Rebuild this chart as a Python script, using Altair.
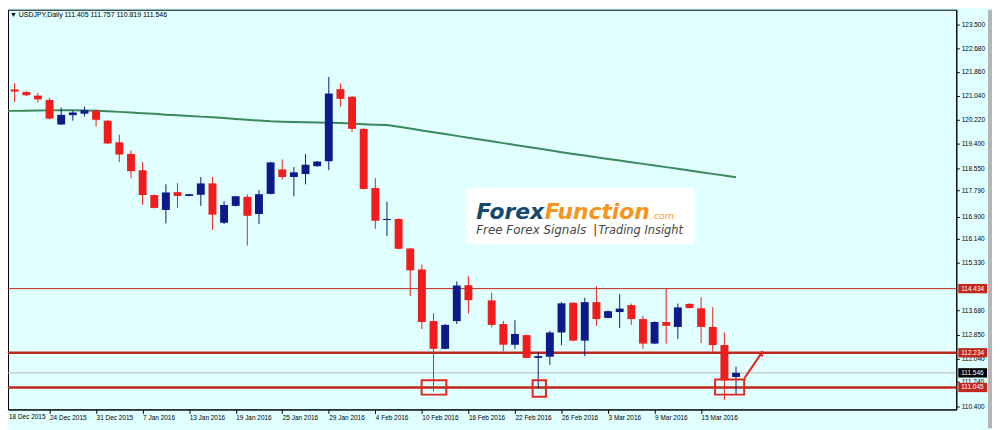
import json
import altair as alt
import pandas as pd

# ---------------- data ----------------
dates = ["18 Dec 2015", "21 Dec 2015", "22 Dec 2015", "23 Dec 2015", "24 Dec 2015",
         "28 Dec 2015", "29 Dec 2015", "30 Dec 2015", "31 Dec 2015", "4 Jan 2016",
         "5 Jan 2016", "6 Jan 2016", "7 Jan 2016", "8 Jan 2016", "11 Jan 2016",
         "12 Jan 2016", "13 Jan 2016", "14 Jan 2016", "15 Jan 2016", "18 Jan 2016",
         "19 Jan 2016", "20 Jan 2016", "21 Jan 2016", "22 Jan 2016", "25 Jan 2016",
         "26 Jan 2016", "27 Jan 2016", "28 Jan 2016", "29 Jan 2016", "1 Feb 2016",
         "2 Feb 2016", "3 Feb 2016", "4 Feb 2016", "5 Feb 2016", "8 Feb 2016",
         "9 Feb 2016", "10 Feb 2016", "11 Feb 2016", "12 Feb 2016", "15 Feb 2016",
         "16 Feb 2016", "17 Feb 2016", "18 Feb 2016", "19 Feb 2016", "22 Feb 2016",
         "23 Feb 2016", "24 Feb 2016", "25 Feb 2016", "26 Feb 2016", "29 Feb 2016",
         "1 Mar 2016", "2 Mar 2016", "3 Mar 2016", "4 Mar 2016", "7 Mar 2016",
         "8 Mar 2016", "9 Mar 2016", "10 Mar 2016", "11 Mar 2016", "14 Mar 2016",
         "15 Mar 2016", "16 Mar 2016", "17 Mar 2016", "18 Mar 2016"]

opens = [123.55, 121.26, 121.17, 121.05, 120.90, 120.06, 120.38, 120.43, 120.53, 120.19,
         119.45, 119.05, 118.49, 117.64, 117.13, 117.74, 117.61, 117.65, 118.04, 116.69,
         117.27, 117.58, 116.99, 117.68, 118.52, 118.26, 118.36, 118.63, 118.80, 121.27,
         121.01, 119.91, 117.88, 116.79, 116.82, 115.81, 115.09, 113.32, 112.37, 113.32,
         114.55, None, 114.03, 113.22, 112.51, 112.84, 112.06, 112.10, 112.93, 113.95,
         112.65, 113.97, 113.43, 113.63, 113.87, 113.39, 112.55, 113.29, 113.12, 113.91,
         113.76, 113.12, 112.50, 111.405]
highs = [123.60, 121.48, 121.20, 121.14, 120.96, 120.64, 120.53, 120.67, 120.58, 120.21,
         119.71, 119.17, 118.77, 117.66, 118.01, 118.05, 117.68, 118.26, 118.26, 117.43,
         117.62, 117.66, 117.81, 118.78, 118.86, 118.60, 119.05, 118.81, 121.69, 121.47,
         121.04, 119.93, 118.22, 117.41, 116.85, 115.83, 115.26, 113.59, 113.22, 114.68,
         114.86, None, 114.29, 113.33, 113.35, 112.86, 112.25, 112.99, 113.97, 113.97,
         114.12, 114.52, 113.68, 114.24, 113.92, 113.50, 113.31, 114.44, 113.92, 113.93,
         114.14, 113.80, 112.93, 111.757]
lows = [121.05, 120.83, 121.03, 120.81, 120.23, 120.04, 120.19, 120.33, 119.99, 119.39,
        118.77, 118.22, 117.30, 117.18, 116.67, 117.20, 117.60, 117.27, 116.45, 116.65,
        117.25, 115.91, 116.65, 117.66, 118.17, 117.60, 118.01, 118.61, 118.49, 120.67,
        119.81, 117.83, 116.48, 116.24, 115.78, 114.18, 113.05, 110.91, 112.35, 113.22,
        113.58, None, 113.10, 112.29, 112.37, 112.04, 111.01, 111.82, 112.50, 112.63,
        112.12, 113.16, 113.41, 113.08, 113.19, 112.37, 112.53, 112.55, 112.71, 113.75,
        112.57, 112.27, 110.61, 110.819]
closes = [121.10, 121.19, 121.06, 120.92, 120.26, 120.39, 120.47, 120.55, 120.22, 119.41,
          119.03, 118.46, 117.64, 117.20, 117.73, 117.61, 117.67, 118.04, 116.97, 117.30,
          117.60, 116.93, 117.67, 118.76, 118.26, 118.42, 118.68, 118.79, 121.12, 120.94,
          119.91, 117.85, 116.76, 116.82, 115.80, 115.06, 113.29, 112.37, 113.19, 114.54,
          114.04, None, 113.19, 112.51, 112.88, 112.06, 112.12, 112.93, 113.93, 112.65,
          113.97, 113.39, 113.66, 113.75, 113.39, 112.55, 113.29, 113.16, 113.79, 113.77,
          113.12, 112.50, 111.29, 111.546]

ma_line = [120.526, 120.526, 120.533, 120.540, 120.543, 120.550, 120.546, 120.540, 120.529, 120.512,
           120.492, 120.472, 120.448, 120.424, 120.397, 120.373, 120.353, 120.329, 120.305, 120.278,
           120.247, 120.220, 120.193, 120.169, 120.155, 120.145, 120.135, 120.128, 120.121, 120.111,
           120.091, 120.070, 120.053, 120.040, 119.982, 119.921, 119.856, 119.795, 119.734, 119.669,
           119.608, 119.547, 119.486, 119.421, 119.360, 119.295, 119.234, 119.173, 119.108, 119.050,
           118.996, 118.938, 118.880, 118.823, 118.765, 118.710, 118.653, 118.598, 118.540, 118.483,
           118.425, 118.367, 118.309, 118.251]

xtick_idx = list(range(4, 61, 4))
xtick_labels = [dates[i] for i in range(0, 61, 4)]
first_label = dates[0]
ytick_labels = ["123.500", "122.680", "121.860", "121.040", "120.220", "119.400", "118.550",
                "117.790", "116.900", "116.140", "115.330", "113.680", "112.850", "112.040",
                "111.240", "110.400"]

level_values = [114.434, 112.234, 111.045]
level_labels = ["114.434", "112.234", "111.045"]
level_widths = [1, 2.5, 2.5]
last_price = 111.546
last_label = "111.546"
header = "\u25BC USDJPY,Daily  111.405 111.757 110.819 111.546"

box_x0 = [35.98, 45.52, 61.20]
box_x1 = [38.10, 46.66, 63.70]
box_lo = [110.80, 110.73, 110.80]
box_hi = [111.29, 111.29, 111.32]

arrow_i = [63.7, 65.2]
arrow_p = [111.35, 112.23]

# ---------------- styling ----------------
UP = "#0c1a8a"
DN = "#f21c1c"
LEVEL = "#c0281e"
BG = "#e0ffff"
FONT = "Liberation Sans"

XS = alt.Scale(domain=[0.43, 81.93], nice=False, zero=False)
YS = alt.Scale(domain=[110.292, 123.994], nice=False, zero=False)

XA = alt.Axis(values=xtick_idx,
              labelExpr=json.dumps(xtick_labels) + "[round(datum.value/4)]",
              orient="bottom", grid=False, tickSize=4, tickColor="black",
              domainColor="black", labelAlign="left", labelBaseline="top",
              labelPadding=1, labelFontSize=6.5, labelFont=FONT, labelColor="black",
              labelOverlap=False, labelFlush=False, title=None)
YA = alt.Axis(values=[float(s) for s in ytick_labels], format=".3f",
              orient="right", grid=False, tickSize=3, tickColor="black",
              domainColor="black", labelPadding=2, labelFontSize=6.5, labelFont=FONT,
              labelColor="black", labelOverlap=False, labelFlush=False, title=None)

# ---------------- tables ----------------
cd = pd.DataFrame({"i": list(range(len(dates))), "date": dates, "open": opens,
                   "high": highs, "low": lows, "close": closes}).dropna()
cd["col"] = [UP if c >= o else DN for o, c in zip(cd["open"], cd["close"])]
lo_b = cd[["open", "close"]].min(axis=1)
hi_b = cd[["open", "close"]].max(axis=1)
mid = (lo_b + hi_b) / 2
thin = (hi_b - lo_b) < 0.035
cd["blo"] = lo_b.where(~thin, mid - 0.0175)
cd["bhi"] = hi_b.where(~thin, mid + 0.0175)
cd["x0"] = cd["i"] - 0.34
cd["x1"] = cd["i"] + 0.34

ma = pd.DataFrame({"i": list(range(len(ma_line))), "ma": ma_line})

lv = pd.DataFrame({"p": level_values, "lab": level_labels, "w": level_widths})
tags = pd.DataFrame({"p": level_values + [last_price],
                     "lab": level_labels + [last_label],
                     "fill": [LEVEL, LEVEL, LEVEL, "black"]})
tags["pt"] = tags["p"] + 0.16
tags["pb"] = tags["p"] - 0.16

boxes = pd.DataFrame({"x0": box_x0, "x1": box_x1, "lo": box_lo, "hi": box_hi})
arrow = pd.DataFrame({"i": arrow_i, "p": arrow_p})
head = arrow.tail(1)

# ---------------- layers ----------------
wicks = alt.Chart(cd).mark_rule(strokeWidth=1).encode(
    x=alt.X("i:Q", scale=XS, axis=XA),
    y=alt.Y("low:Q", scale=YS, axis=YA),
    y2="high:Q",
    color=alt.Color("col:N", scale=None))

bodies = alt.Chart(cd).mark_rect().encode(
    x=alt.X("x0:Q", scale=XS, axis=XA), x2="x1:Q",
    y=alt.Y("blo:Q", scale=YS, axis=YA), y2="bhi:Q",
    color=alt.Color("col:N", scale=None))

ma_layer = alt.Chart(ma).mark_line(color="#3a8a5c", strokeWidth=2).encode(
    x=alt.X("i:Q", scale=XS, axis=XA),
    y=alt.Y("ma:Q", scale=YS, axis=YA))

last_rule = alt.Chart(pd.DataFrame({"p": [last_price]})).mark_rule(
    color="#b9b9b9", strokeWidth=1).encode(y=alt.Y("p:Q", scale=YS, axis=YA))

levels = alt.Chart(lv).mark_rule(color=LEVEL).encode(
    y=alt.Y("p:Q", scale=YS, axis=YA),
    strokeWidth=alt.StrokeWidth("w:Q", scale=None))

box_layer = alt.Chart(boxes).mark_rect(fillOpacity=0, stroke="#e3261e", strokeWidth=2).encode(
    x=alt.X("x0:Q", scale=XS, axis=XA), x2="x1:Q",
    y=alt.Y("lo:Q", scale=YS, axis=YA), y2="hi:Q")

arrow_line = alt.Chart(arrow).mark_line(color="#e3261e", strokeWidth=2).encode(
    x=alt.X("i:Q", scale=XS, axis=XA),
    y=alt.Y("p:Q", scale=YS, axis=YA))
arrow_head = alt.Chart(head).mark_point(shape="triangle-up", filled=True, size=45,
                                        angle=35, color="#e3261e", opacity=1).encode(
    x=alt.X("i:Q", scale=XS, axis=XA),
    y=alt.Y("p:Q", scale=YS, axis=YA))

tag_boxes = alt.Chart(tags).mark_rect(clip=False).encode(
    x=alt.value(958), x2=alt.value(987),
    y=alt.Y("pt:Q", scale=YS, axis=YA), y2="pb:Q",
    color=alt.Color("fill:N", scale=None))
tag_text = alt.Chart(tags).mark_text(clip=False, align="left", baseline="middle",
                                     fontSize=6.5, font=FONT, color="white").encode(
    x=alt.value(961),
    y=alt.Y("p:Q", scale=YS, axis=YA),
    text="lab:N")

# first date label sits at the very left edge of the window
first_lab = alt.Chart(pd.DataFrame({"t": [first_label]})).mark_text(
    clip=False, align="left", baseline="top", fontSize=6.5, font=FONT,
    color="black").encode(x=alt.value(1), y=alt.value(408), text="t:N")

# logo (decoration)
logo_bg = alt.Chart(pd.DataFrame({"a": [0]})).mark_rect(color="white").encode(
    x=alt.value(462), x2=alt.value(692), y=alt.value(180), y2=alt.value(236))
logo_texts = pd.DataFrame({
    "t": ["Forex", "Function", ".com", "Free Forex Signals", "|", "Trading Insight"],
    "x": [472, 541, 648, 472, 590, 595],
    "y": [211, 211, 211, 226, 226, 226],
    "s": [22, 22, 9.5, 12, 11.5, 11.5],
    "c": ["#17496e", "#f7941d", "#f7941d", "#454545", "#e3261e", "#454545"],
    "w": ["bold", "bold", "normal", "normal", "bold", "normal"]})
logo_layers = []
for _, r in logo_texts.iterrows():
    logo_layers.append(
        alt.Chart(pd.DataFrame({"t": [r["t"]]})).mark_text(
            align="left", baseline="alphabetic", font="DejaVu Sans",
            fontStyle="italic", fontWeight=r["w"], fontSize=float(r["s"]),
            color=r["c"]).encode(x=alt.value(int(r["x"])), y=alt.value(int(r["y"])),
                                 text="t:N"))

header_layer = alt.Chart(pd.DataFrame({"t": [header]})).mark_text(
    align="left", baseline="middle", fontSize=7, font=FONT, color="black").encode(
    x=alt.value(2), y=alt.value(5), text="t:N")

strip = alt.Chart(pd.DataFrame({"a": [0]})).mark_rect(color="#b4b4b4", clip=False).encode(
    x=alt.value(988), x2=alt.value(992), y=alt.value(0), y2=alt.value(422))

chart = alt.layer(
    logo_bg, *logo_layers, ma_layer, last_rule, levels, wicks, bodies,
    box_layer, arrow_line, arrow_head, tag_boxes, tag_text, first_lab,
    header_layer, strip
).properties(
    width=956, height=403,
    autosize=alt.AutoSizeParams(type="none"),
    padding={"left": 0, "top": 0, "right": 36, "bottom": 19},
).configure(background=BG).configure_view(stroke="black", strokeWidth=1)

chart.save("out.html", embed_options={"renderer": "svg", "actions": False})
